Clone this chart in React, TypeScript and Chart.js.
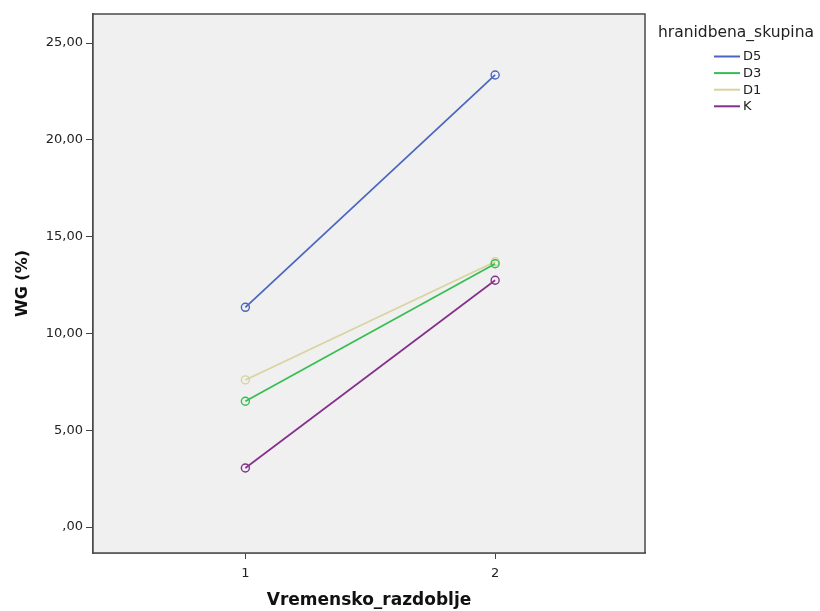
import React, { useEffect, useRef } from "react";
import { Chart, registerables } from "chart.js";

Chart.register(...registerables);

const periods = [1, 2];
const groups = ["D5", "D3", "D1", "K"];
const d5Values = [11.35, 23.35];
const d3Values = [6.5, 13.6];
const d1Values = [7.6, 13.7];
const kValues = [3.05, 12.75];
const groupColors = ["#4A66BE", "#36BE50", "#D8D3A0", "#84308A"];
const yTicks = [0, 5, 10, 15, 20, 25];
const yTickLabels = [",00", "5,00", "10,00", "15,00", "20,00", "25,00"];
const xTickLabels = ["1", "2"];
const legendTitle = "hranidbena_skupina";
const xTitle = "Vremensko_razdoblje";
const yTitle = "WG (%)";

const FONT = "'DejaVu Sans', Verdana, sans-serif";

export default function App() {
  const ref = useRef<HTMLCanvasElement | null>(null);

  useEffect(() => {
    if (!ref.current) return;
    const series = [d5Values, d3Values, d1Values, kValues];
    const datasets = groups.map((g, i) => ({
      label: g,
      data: periods.map((p, j) => ({ x: p, y: series[i][j] })),
      borderColor: groupColors[i],
      backgroundColor: "rgba(0,0,0,0)",
      pointBorderColor: groupColors[i],
      pointBackgroundColor: "rgba(0,0,0,0)",
      borderWidth: 1.7,
      pointRadius: 4,
      pointBorderWidth: 1.4,
      pointStyle: "circle" as const,
    }));

    const framePlugin = {
      id: "frame",
      beforeDatasetsDraw(chart: any) {
        const { ctx, chartArea: a } = chart;
        ctx.save();
        ctx.fillStyle = "#F0F0F0";
        ctx.fillRect(a.left, a.top, a.right - a.left, a.bottom - a.top);
        ctx.restore();
      },
      afterDatasetsDraw(chart: any) {
        const { ctx, chartArea: a } = chart;
        ctx.save();
        ctx.strokeStyle = "#4a4a4a";
        ctx.lineWidth = 1.5;
        ctx.strokeRect(a.left, a.top, a.right - a.left, a.bottom - a.top);
        ctx.restore();
      },
      afterDraw(chart: any) {
        const { ctx } = chart;
        ctx.save();
        ctx.fillStyle = "#222";
        ctx.font = `15.5px ${FONT}`;
        ctx.textBaseline = "middle";
        ctx.textAlign = "left";
        ctx.fillText(legendTitle, 658, 33);
        ctx.font = `13px ${FONT}`;
        groups.forEach((g, i) => {
          const y = 56.5 + i * 16.6;
          ctx.strokeStyle = groupColors[i];
          ctx.lineWidth = 2;
          ctx.beginPath();
          ctx.moveTo(714, y);
          ctx.lineTo(740, y);
          ctx.stroke();
          ctx.fillStyle = "#222";
          ctx.fillText(g, 743, y + 0.5);
        });
        ctx.restore();
      },
    };

    const chart = new Chart(ref.current, {
      type: "line",
      data: { datasets },
      plugins: [framePlugin],
      options: {
        animation: false,
        responsive: false,
        maintainAspectRatio: false,
        layout: { padding: { top: 14, right: 175, bottom: 0, left: 0 } },
        plugins: { legend: { display: false }, tooltip: { enabled: false } },
        scales: {
          x: {
            type: "linear",
            min: 0.39,
            max: 2.6,
            afterBuildTicks(scale: any) {
              scale.ticks = periods.map((v) => ({ value: v }));
            },
            afterFit(scale: any) {
              scale.height = 58;
            },
            ticks: {
              callback: (v: any) => xTickLabels[periods.indexOf(Number(v))] ?? "",
              color: "#222",
              font: { family: FONT, size: 13 },
              padding: 7,
              maxRotation: 0,
            },
            grid: { drawOnChartArea: false, drawTicks: true, tickLength: 6, color: "#444" },
            border: { display: true, color: "#4a4a4a", width: 1.5 },
            title: {
              display: true,
              text: xTitle,
              color: "#111",
              font: { family: FONT, size: 17, weight: "bold" },
              padding: { top: 4, bottom: 0 },
            },
          },
          y: {
            type: "linear",
            min: -1.34,
            max: 26.5,
            afterBuildTicks(scale: any) {
              scale.ticks = yTicks.map((v) => ({ value: v }));
            },
            afterFit(scale: any) {
              scale.width = 93;
            },
            ticks: {
              callback: (v: any) => yTickLabels[yTicks.indexOf(Number(v))] ?? "",
              color: "#222",
              font: { family: FONT, size: 13 },
              padding: 3,
            },
            grid: { drawOnChartArea: false, drawTicks: true, tickLength: 7, color: "#444" },
            border: { display: true, color: "#4a4a4a", width: 1.5 },
            title: {
              display: true,
              text: yTitle,
              color: "#111",
              font: { family: FONT, size: 16, weight: "bold" },
              padding: { top: 13, bottom: 4 },
            },
          },
        },
      },
    } as any);
    return () => chart.destroy();
  }, []);

  return (
    <div style={{ position: "absolute", left: 0, top: 0, width: 820, height: 611, background: "#fff" }}>
      <canvas ref={ref} width={820} height={611} style={{ width: 820, height: 611 }} />
    </div>
  );
}
